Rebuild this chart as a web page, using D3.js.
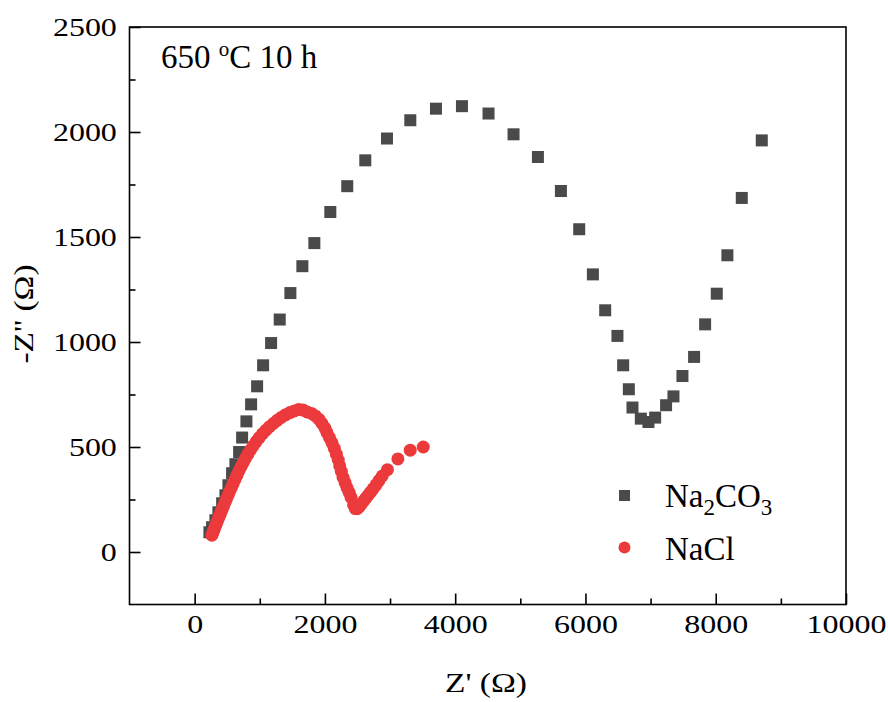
<!DOCTYPE html>
<html>
<head>
<meta charset="utf-8">
<script src="https://cdn.jsdelivr.net/npm/d3@7"></script>
<style>
  html, body { margin: 0; padding: 0; background: #fff; }
  svg { display: block; }
  text { font-family: "Liberation Serif", "Times New Roman", serif; fill: #000; }
</style>
</head>
<body>
<div id="container"></div>
<script>
// Nyquist data, [Z', -Z''] in ohm
const na2co3 = [
  [227, 94], [268, 118], [319, 151], [365, 189], [422, 232], [473, 270], [519, 318],
  [575, 375], [626, 418], [683, 476], [729, 545], [795, 622], [867, 703], [959, 789],
  [1051, 889], [1174, 995], [1306, 1107], [1470, 1233], [1654, 1361], [1838, 1471],
  [2083, 1619], [2343, 1742], [2620, 1865], [2953, 1969], [3311, 2056], [3705, 2111],
  [4104, 2123], [4512, 2088], [4896, 1989], [5270, 1881], [5623, 1719], [5904, 1537],
  [6114, 1322], [6303, 1151], [6491, 1029], [6579, 889], [6666, 775], [6722, 688],
  [6850, 635], [6967, 619], [7070, 640], [7238, 699], [7351, 741], [7489, 838],
  [7668, 929], [7837, 1084], [8016, 1230], [8179, 1413], [8400, 1686], [8707, 1960]
];
const nacl = [
  [265, 80], [280, 92], [295, 104], [310, 116], [325, 128], [340, 140], [356, 152],
  [372, 165], [390, 178], [408, 192], [428, 207], [448, 222], [470, 238], [492, 255],
  [516, 272], [540, 290], [566, 308], [592, 327], [620, 346], [650, 366], [680, 386],
  [712, 406], [745, 426], [780, 446], [818, 466], [858, 486], [900, 506], [945, 526],
  [992, 545], [1042, 563], [1095, 580], [1150, 597], [1208, 612], [1268, 627],
  [1330, 641], [1395, 653], [1462, 664], [1530, 672], [1598, 679], [1665, 676],
  [1726, 667], [1795, 660], [1853, 648], [1910, 632], [1956, 612], [2000, 590],
  [2032, 568], [2070, 545], [2109, 520], [2145, 493], [2176, 466], [2205, 438],
  [2227, 410], [2252, 384], [2278, 356], [2310, 330], [2340, 306], [2372, 284],
  [2401, 260], [2440, 224], [2467, 207], [2495, 206], [2525, 215], [2555, 227],
  [2590, 241], [2625, 255], [2660, 269], [2700, 285], [2740, 301], [2785, 320],
  [2830, 340], [2880, 362], [2960, 392], [3120, 443], [3310, 485], [3510, 500]
];
const xMajor = [0, 2000, 4000, 6000, 8000, 10000];
const xMinor = [1000, 3000, 5000, 7000, 9000];
const yMajor = [0, 500, 1000, 1500, 2000, 2500];
const yMinor = [250, 750, 1250, 1750, 2250];
const seriesNames = ['Na2CO3', 'NaCl'];
const seriesColors = ['#4a4a4a', '#ec3a3c'];

const W = 888, H = 702;
const box = { left: 129.5, right: 846, top: 27, bottom: 604.5 };

const svg = d3.select('#container')
    .append('svg')
    .attr('width', W)
    .attr('height', H);

const x = d3.scaleLinear().domain([-1000, 10000]).range([box.left, box.right]);
const y = d3.scaleLinear().domain([-250, 2500]).range([box.bottom, box.top]);

// frame
svg.append('rect')
    .attr('x', box.left)
    .attr('y', box.top)
    .attr('width', box.right - box.left)
    .attr('height', box.bottom - box.top)
    .attr('fill', 'none')
    .attr('stroke', '#000')
    .attr('stroke-width', 1.6);

// x axis
const gx = svg.append('g')
    .attr('transform', `translate(0, ${box.bottom})`)
    .call(d3.axisBottom(x).tickValues(xMajor).tickSize(-11).tickFormat(d3.format('d')));
gx.select('.domain').remove();
gx.selectAll('.tick line').attr('stroke', '#000').attr('stroke-width', 1.6);
gx.selectAll('.tick text')
    .attr('y', 28.5)
    .attr('dy', null)
    .attr('font-size', 26)
    .attr('transform', 'scale(1.23,1)')
    .attr('font-family', '"Liberation Serif", serif');

const gxm = svg.append('g')
    .attr('transform', `translate(0, ${box.bottom})`)
    .call(d3.axisBottom(x).tickValues(xMinor).tickSize(-6).tickFormat(''));
gxm.select('.domain').remove();
gxm.selectAll('.tick line').attr('stroke', '#000').attr('stroke-width', 1.6);

// y axis
const gy = svg.append('g')
    .attr('transform', `translate(${box.left}, 0)`)
    .call(d3.axisLeft(y).tickValues(yMajor).tickSize(-11).tickFormat(d3.format('d')));
gy.select('.domain').remove();
gy.selectAll('.tick line').attr('stroke', '#000').attr('stroke-width', 1.6);
gy.selectAll('.tick text')
    .attr('x', -10.3)
    .attr('dy', '0.34em')
    .attr('font-size', 26)
    .attr('transform', 'scale(1.23,1)')
    .attr('font-family', '"Liberation Serif", serif');

const gym = svg.append('g')
    .attr('transform', `translate(${box.left}, 0)`)
    .call(d3.axisLeft(y).tickValues(yMinor).tickSize(-6).tickFormat(''));
gym.select('.domain').remove();
gym.selectAll('.tick line').attr('stroke', '#000').attr('stroke-width', 1.6);

// axis titles
svg.append('text')
    .attr('transform', 'translate(486, 692) scale(1.24,1)')
    .attr('text-anchor', 'middle')
    .attr('font-size', 27)
    .text("Z' (\u03A9)");

svg.append('text')
    .attr('transform', 'translate(33, 314) rotate(-90) scale(1.24,1)')
    .attr('text-anchor', 'middle')
    .attr('font-size', 27)
    .text("-Z'' (\u03A9)");

// annotation
const note = svg.append('text')
    .attr('x', 161)
    .attr('y', 68)
    .attr('font-size', 33);
note.append('tspan').text('650 ');
note.append('tspan').attr('font-size', 21).attr('dy', -12).text('o');
note.append('tspan').attr('dy', 12).text('C 10 h');

// data
const size = 12;
svg.append('g')
    .selectAll('rect')
    .data(na2co3).enter()
    .append('rect')
    .attr('x', d => x(d[0]) - size / 2)
    .attr('y', d => y(d[1]) - size / 2)
    .attr('width', size)
    .attr('height', size)
    .attr('fill', seriesColors[0]);

svg.append('g')
    .selectAll('circle')
    .data(nacl).enter()
    .append('circle')
    .attr('cx', d => x(d[0]))
    .attr('cy', d => y(d[1]))
    .attr('r', 6.5)
    .attr('fill', seriesColors[1]);

// legend
const lg = svg.append('g');
lg.append('rect')
    .attr('x', 624.5 - 5.5)
    .attr('y', 495.5 - 5.5)
    .attr('width', 11)
    .attr('height', 11)
    .attr('fill', seriesColors[0]);
lg.append('circle')
    .attr('cx', 624.5)
    .attr('cy', 547.5)
    .attr('r', 6)
    .attr('fill', seriesColors[1]);

const t1 = lg.append('text').attr('x', 665).attr('y', 507).attr('font-size', 33);
t1.append('tspan').text('Na');
t1.append('tspan').attr('font-size', 23).attr('dy', 8).text('2');
t1.append('tspan').attr('dy', -8).text('CO');
t1.append('tspan').attr('font-size', 23).attr('dy', 8).text('3');

lg.append('text').attr('x', 665).attr('y', 560).attr('font-size', 33).text(seriesNames[1]);
</script>
</body>
</html>
